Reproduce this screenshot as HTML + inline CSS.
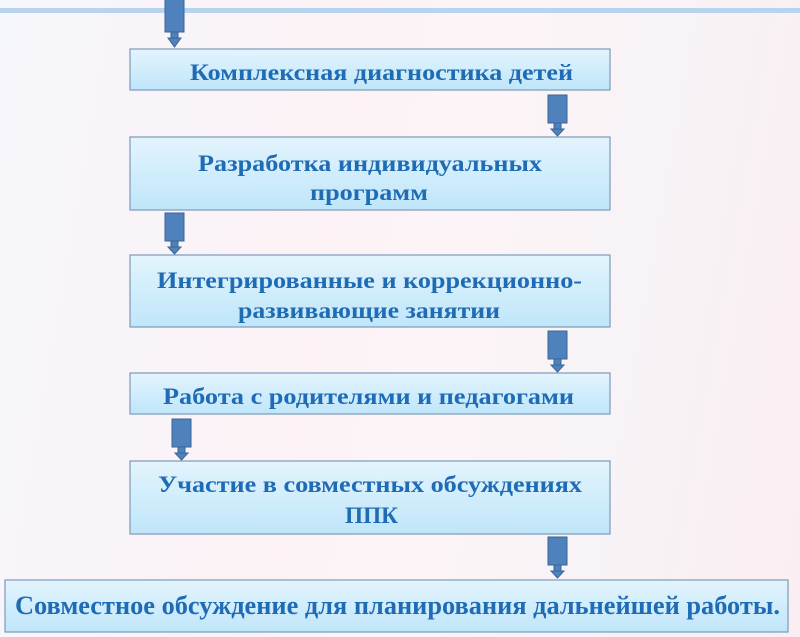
<!DOCTYPE html>
<html><head><meta charset="utf-8"><style>
html,body{margin:0;padding:0;width:800px;height:637px;overflow:hidden;}
body{background:linear-gradient(100deg,#f6f7fc 0%,#fbf2f6 35%,#fdf4f7 55%,#f7f3f6 75%,#fbeef2 100%);}
</style></head><body>
<svg width="800" height="637" viewBox="0 0 800 637" xmlns="http://www.w3.org/2000/svg" font-family="Liberation Serif, serif" font-weight="bold">
<defs>
<linearGradient id="g" x1="0" y1="0" x2="0" y2="1">
<stop offset="0" stop-color="#e3f4fd"/><stop offset="1" stop-color="#bfe6fa"/>
</linearGradient>
<g id="ar">
<rect x="0" y="0" width="19" height="28" fill="#4f81bd" stroke="#3a6597" stroke-width="1"/>
<rect x="6" y="28" width="7" height="6" fill="#4f81bd" stroke="#3a6597" stroke-width="1"/>
<polygon points="3,34 16,34 9.5,41" fill="#4f81bd" stroke="#3a6597" stroke-width="1"/>
</g>
</defs>
<rect x="0" y="8" width="800" height="5" fill="#b7d3ee"/>
<g stroke="#7d99b8" stroke-width="1.2" fill="url(#g)">
<rect x="130" y="49" width="480" height="41"/>
<rect x="130" y="137" width="480" height="73"/>
<rect x="130" y="255" width="480" height="72"/>
<rect x="130" y="373" width="480" height="41"/>
<rect x="130" y="461" width="480" height="73"/>
<rect x="5" y="580" width="783" height="52"/>
</g>
<rect x="165" y="-2" width="19" height="34" fill="#4f81bd" stroke="#3a6597" stroke-width="1"/>
<rect x="171" y="32" width="7" height="6" fill="#4f81bd" stroke="#3a6597" stroke-width="1"/>
<polygon points="168,38 181,38 174.5,47" fill="#4f81bd" stroke="#3a6597" stroke-width="1"/>
<use href="#ar" x="548" y="95"/>
<use href="#ar" x="165" y="213"/>
<use href="#ar" x="548" y="331"/>
<use href="#ar" x="172" y="419"/>
<use href="#ar" x="548" y="537"/>
<g fill="#1f6cb5" font-size="23">
<text x="190" y="80" textLength="383" lengthAdjust="spacingAndGlyphs">Комплексная диагностика детей</text>
<text x="198" y="171" textLength="344" lengthAdjust="spacingAndGlyphs">Разработка индивидуальных</text>
<text x="310" y="200" textLength="118" lengthAdjust="spacingAndGlyphs">программ</text>
<text x="157" y="288" textLength="425" lengthAdjust="spacingAndGlyphs">Интегрированные и коррекционно-</text>
<text x="238" y="318" textLength="262" lengthAdjust="spacingAndGlyphs">развивающие занятии</text>
<text x="163" y="404" textLength="411" lengthAdjust="spacingAndGlyphs">Работа с родителями и педагогами</text>
<text x="158" y="492" textLength="424" lengthAdjust="spacingAndGlyphs">Участие в совместных обсуждениях</text>
<text x="345" y="523" textLength="53" lengthAdjust="spacingAndGlyphs">ППК</text>
<text x="15" y="614" font-size="26" textLength="765" lengthAdjust="spacingAndGlyphs">Совместное обсуждение для планирования дальнейшей работы.</text>
</g>
</svg>
</body></html>
